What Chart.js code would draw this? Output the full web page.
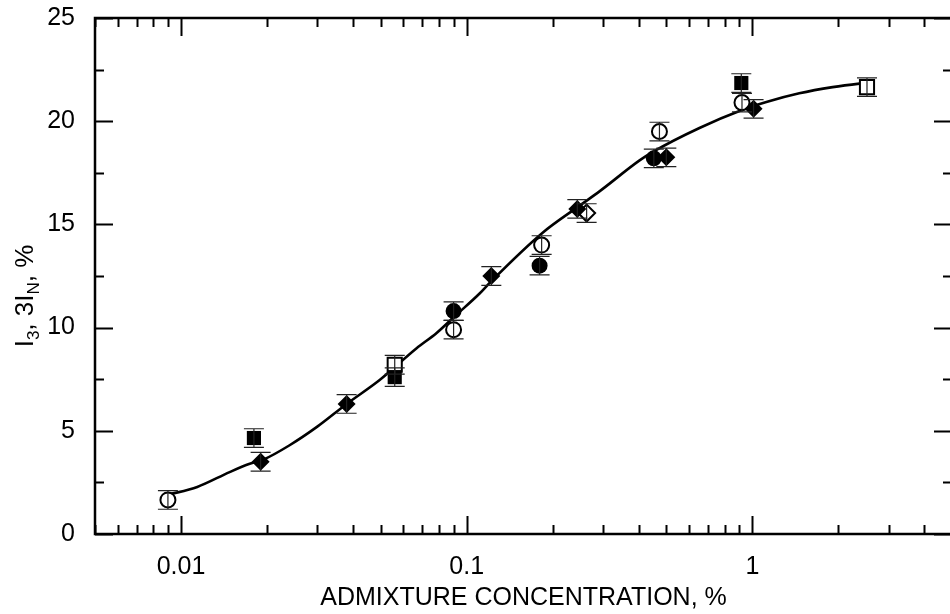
<!DOCTYPE html>
<html>
<head>
<meta charset="utf-8">
<script src="https://cdn.jsdelivr.net/npm/chart.js@4.4.1/dist/chart.umd.min.js"></script>
<style>
  html, body { margin: 0; padding: 0; background: #fff; overflow: hidden; }
  #wrap { width: 960px; height: 614px; }
</style>
</head>
<body>
<div id="wrap"><canvas id="chart" width="960" height="614"></canvas></div>
<script>
// axis ticks
const xTicks = [0.005, 0.006, 0.007, 0.008, 0.009,
  0.01, 0.02, 0.03, 0.04, 0.05, 0.06, 0.07, 0.08, 0.09,
  0.1, 0.2, 0.3, 0.4, 0.5, 0.6, 0.7, 0.8, 0.9,
  1, 2, 3, 4, 5]
const xMajor = [0.01, 0.1, 1]
const yTicks = [0, 2.5, 5, 7.5, 10, 12.5, 15, 17.5, 20, 22.5, 25]
const yMajor = [0, 5, 10, 15, 20, 25]

// fitted curve
const curveX = [0.009, 0.0114, 0.0148, 0.0174, 0.0194, 0.024, 0.030, 0.038, 0.0496, 0.0668, 0.0785,
  0.09, 0.111, 0.122, 0.1845, 0.248, 0.2917, 0.403, 0.447, 0.653, 0.92, 1.12, 1.46, 1.91, 2.37, 2.5]
const curveY = [1.9, 2.28, 3.0, 3.4, 3.6, 4.3, 5.2, 6.3, 7.46, 9.0, 9.74,
  10.5, 11.65, 12.25, 14.6, 15.9, 16.6, 18.1, 18.5, 19.67, 20.54, 20.93, 21.35, 21.65, 21.82, 21.85]

// measured points
const filledCircleX = [0.09, 0.18, 0.452]
const filledCircleY = [10.8, 13.0, 18.2]
const filledSquareX = [0.018, 0.056, 0.915]
const filledSquareY = [4.65, 7.6, 21.85]
const filledDiamondX = [0.019, 0.038, 0.122, 0.244, 0.50, 1.01]
const filledDiamondY = [3.5, 6.3, 12.5, 15.75, 18.25, 20.6]
const openCircleX = [0.009, 0.09, 0.183, 0.473, 0.92]
const openCircleY = [1.65, 9.9, 14.0, 19.5, 20.9]
const openDiamondX = [0.263]
const openDiamondY = [15.55]
const openSquareX = [0.056, 2.52]
const openSquareY = [8.2, 21.65]
const errHalf = 0.45

const toPts = (xs, ys) => xs.map((x, i) => ({x: x, y: ys[i]}))

const font = '"Liberation Sans", Arial, Helvetica, sans-serif'

const frameTicks = {
  id: 'frameTicks',
  afterDraw(chart) {
    const {ctx, chartArea: a} = chart
    const xs = chart.scales.x
    const ys = chart.scales.y
    ctx.save()
    ctx.strokeStyle = '#000'
    ctx.lineWidth = 2
    xTicks.forEach(v => {
      const px = Math.round(xs.getPixelForValue(v)) + 0.5
      const len = xMajor.includes(v) ? 18 : 9
      ctx.beginPath()
      ctx.moveTo(px, a.bottom); ctx.lineTo(px, a.bottom - len)
      ctx.moveTo(px, a.top); ctx.lineTo(px, a.top + len)
      ctx.stroke()
    })
    yTicks.forEach(v => {
      const py = Math.round(ys.getPixelForValue(v)) + 0.5
      const len = yMajor.includes(v) ? 18 : 9
      ctx.beginPath()
      ctx.moveTo(a.left, py); ctx.lineTo(a.left + len, py)
      ctx.moveTo(a.right, py); ctx.lineTo(a.right - len, py)
      ctx.stroke()
    })
    ctx.lineWidth = 2.5
    ctx.strokeRect(a.left, a.top, a.right - a.left, a.bottom - a.top)
    ctx.restore()
  }
}

const errorBars = {
  id: 'errorBars',
  afterDatasetsDraw(chart) {
    const {ctx} = chart
    const xs = chart.scales.x
    const ys = chart.scales.y
    ctx.save()
    ctx.strokeStyle = '#222'
    ctx.lineWidth = 1.2
    chart.data.datasets.forEach(ds => {
      if (!ds.errorBars) return
      ds.data.forEach(p => {
        const px = xs.getPixelForValue(p.x)
        const top = ys.getPixelForValue(p.y + errHalf)
        const bot = ys.getPixelForValue(p.y - errHalf)
        ctx.beginPath()
        ctx.moveTo(px, top); ctx.lineTo(px, bot)
        ctx.moveTo(px - 10, top); ctx.lineTo(px + 10, top)
        ctx.moveTo(px - 10, bot); ctx.lineTo(px + 10, bot)
        ctx.stroke()
      })
    })
    ctx.restore()
  }
}

const yTitle = {
  id: 'yTitle',
  afterDraw(chart) {
    const {ctx} = chart
    const parts = [['I', false], ['3', true], [', 3I', false], ['N', true], [', %', false]]
    const big = '26px ' + font
    const small = '17px ' + font
    ctx.save()
    let total = 0
    parts.forEach(([t, sub]) => { ctx.font = sub ? small : big; total += ctx.measureText(t).width })
    ctx.translate(33, 296)
    ctx.rotate(-Math.PI / 2)
    ctx.fillStyle = '#000'
    ctx.textBaseline = 'alphabetic'
    let x = -total / 2
    parts.forEach(([t, sub]) => {
      ctx.font = sub ? small : big
      ctx.fillText(t, x, sub ? 6 : 0)
      x += ctx.measureText(t).width
    })
    ctx.restore()
  }
}

const mk = (label, xs, ys, style, radius, fill) => ({
  label: label,
  data: toPts(xs, ys),
  pointStyle: style,
  pointRadius: radius,
  pointBackgroundColor: fill ? '#000' : '#fff',
  pointBorderColor: '#000',
  pointBorderWidth: fill ? 0 : 2,
  showLine: false,
  errorBars: true
})

new Chart(document.getElementById('chart'), {
  type: 'scatter',
  data: {
    datasets: [
      {
        label: 'fit',
        data: toPts(curveX, curveY),
        showLine: true,
        borderColor: '#000',
        borderWidth: 2.6,
        pointRadius: 0,
        cubicInterpolationMode: 'monotone',
        order: 10
      },
      mk('filled circles', filledCircleX, filledCircleY, 'circle', 8, true),
      mk('filled squares', filledSquareX, filledSquareY, 'rect', 10, true),
      mk('filled diamonds', filledDiamondX, filledDiamondY, 'rectRot', 9, true),
      mk('open circles', openCircleX, openCircleY, 'circle', 7.5, false),
      mk('open diamonds', openDiamondX, openDiamondY, 'rectRot', 8.5, false),
      mk('open squares', openSquareX, openSquareY, 'rect', 10, false)
    ]
  },
  plugins: [errorBars, frameTicks, yTitle],
  options: {
    responsive: false,
    animation: false,
    layout: { autoPadding: false, padding: { left: 0, right: 8, top: 18, bottom: 0 } },
    plugins: {
      legend: { display: false },
      tooltip: { enabled: false }
    },
    scales: {
      x: {
        type: 'logarithmic',
        min: 0.005,
        max: 5,
        afterBuildTicks: s => { s.ticks = xTicks.map(v => ({value: v, major: xMajor.includes(v)})) },
        afterFit: s => { s.height = 80; s.paddingLeft = 0; s.paddingRight = 0 },
        grid: { display: false, drawTicks: false },
        border: { display: false },
        ticks: {
          autoSkip: false,
          maxRotation: 0,
          minRotation: 0,
          padding: 18,
          color: '#000',
          font: { family: font, size: 25 },
          callback: v => xMajor.includes(v) ? String(v) : ''
        },
        title: {
          display: true,
          text: 'ADMIXTURE CONCENTRATION, %',
          color: '#000',
          font: { family: font, size: 25 },
          padding: { top: 0, bottom: 1 }
        }
      },
      y: {
        min: 0,
        max: 25,
        afterBuildTicks: s => { s.ticks = yTicks.map(v => ({value: v})) },
        afterFit: s => { s.width = 95; s.paddingTop = 0; s.paddingBottom = 0 },
        grid: { display: false, drawTicks: false },
        border: { display: false },
        ticks: {
          autoSkip: false,
          padding: 20,
          color: '#000',
          font: { family: font, size: 25 },
          callback: v => yMajor.includes(v) ? String(v) : ''
        }
      }
    }
  }
})
</script>
</body>
</html>
